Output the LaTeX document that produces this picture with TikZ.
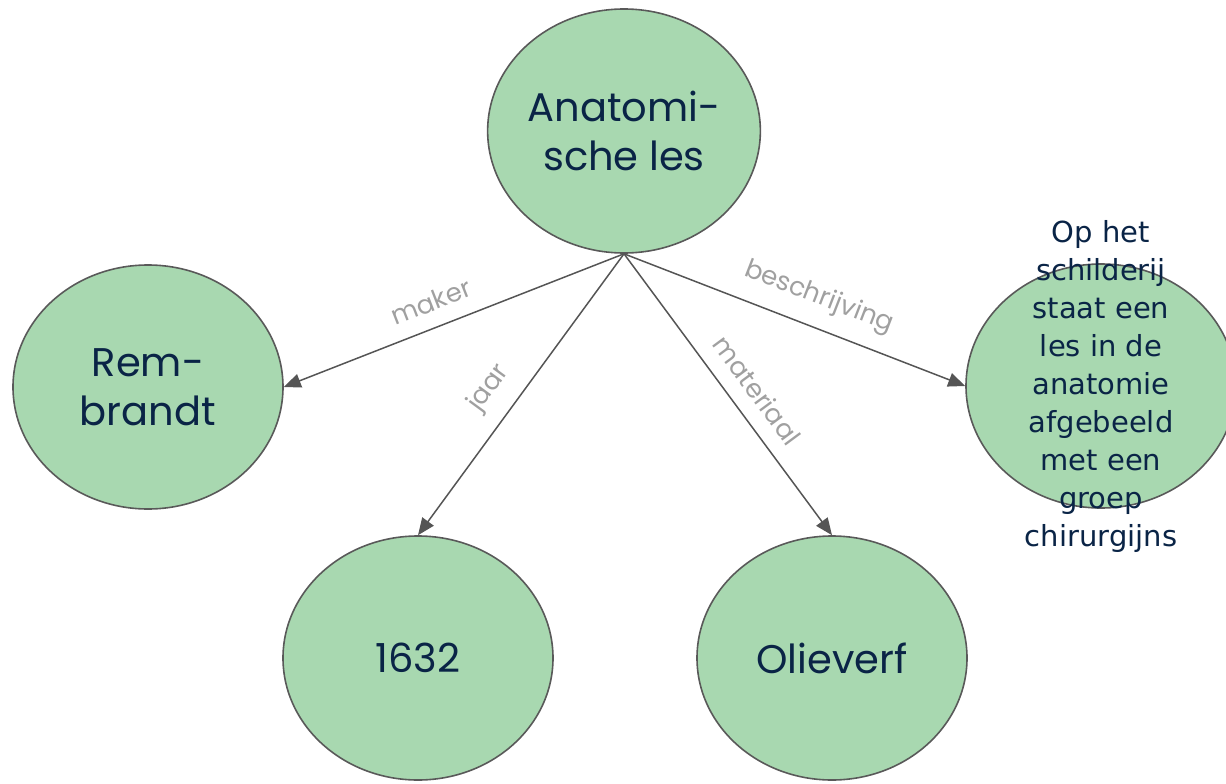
\documentclass[tikz,border=0pt]{standalone}
\usepackage{fontspec}
\setmainfont{Poppins}
\newfontfamily\descfont{DejaVu Sans}
\usetikzlibrary{shapes.geometric, arrows.meta}
\definecolor{bolgroen}{RGB}{168,216,176}
\definecolor{randgrijs}{RGB}{89,89,89}
\definecolor{tekstblauw}{RGB}{10,36,70}
\definecolor{labelgrijs}{RGB}{160,160,160}
\definecolor{pijlgrijs}{RGB}{85,85,85}

\begin{document}
\begin{tikzpicture}[x=1pt, y=-1pt,
  bol/.style={ellipse, draw=randgrijs, line width=1.6pt, fill=bolgroen,
    inner sep=0pt, minimum width=270pt, minimum height=244pt,
    text=tekstblauw, align=center,
    font=\fontsize{40}{49}\selectfont},
  desctekst/.style={text=tekstblauw, align=center, inner sep=0pt,
    font=\descfont\fontsize{29}{38}\selectfont},
  pijl/.style={draw=pijlgrijs, line width=1.5pt,
    -{Triangle[length=17pt, width=14pt]}},
  relatie/.style={text=labelgrijs, sloped, above=12pt, pos=0.54,
    font=\fontsize{26}{30}\selectfont}]
  \useasboundingbox (0,0) rectangle (1226,784);

  % the five circles
  \node[bol] (anatomie) at (624,131) {Anatomi-\\sche les};
  \node[bol] (rembrandt) at (148,387) {Rem-\\brandt};
  \node[bol] (jaartal) at (418,658) {1632};
  \node[bol] (olieverf) at (832,658) {Olieverf};
  \node[bol] (schilderij) at (1101,386) {};
  \node[desctekst] (omschrijving) at (schilderij.center)
    {Op het\\schilderij\\staat een\\les in de\\anatomie\\afgebeeld\\met een\\groep\\chirurgijns};

  % relations
  \draw[pijl] (anatomie.south) -- node[relatie] (lmaker) {maker} (rembrandt.east);
  \draw[pijl] (anatomie.south) -- node[relatie] (ljaar) {jaar} (jaartal.north);
  \draw[pijl] (anatomie.south) -- node[relatie] (lmateriaal) {materiaal} (olieverf.north);
  \draw[pijl] (anatomie.south) -- node[relatie] (lbeschrijving) {beschrijving} (schilderij.west);
\end{tikzpicture}
\end{document}
